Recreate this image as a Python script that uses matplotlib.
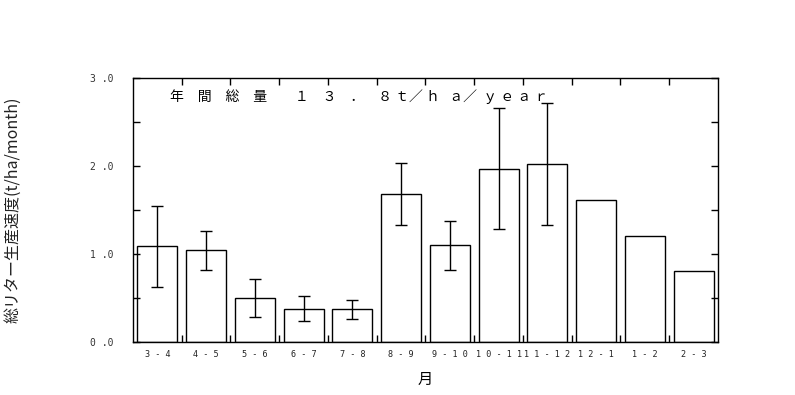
import numpy as np
import matplotlib as mpl
mpl.use('agg')
import matplotlib.pyplot as plt

plt.rcParams['font.family'] = ['Noto Sans CJK JP', 'DejaVu Sans']

months = ["3 - 4", "4 - 5", "5 - 6", "6 - 7", "7 - 8", "8 - 9", "9 - 1 0",
          "1 0 - 1 1", "1 1 - 1 2", "1 2 - 1", "1 - 2", "2 - 3"]
litter = [1.09, 1.04, 0.50, 0.38, 0.37, 1.68, 1.10, 1.97, 2.02, 1.61, 1.20, 0.81]
sd = [0.46, 0.22, 0.22, 0.14, 0.11, 0.35, 0.28, 0.69, 0.69, np.nan, np.nan, np.nan]

yticks = [0.0, 0.5, 1.0, 1.5, 2.0, 2.5, 3.0]
ylabels = ["0 .0", "", "1 .0", "", "2 .0", "", "3 .0"]
title_txt = "年　間　総　量　　１　３　．　８ ｔ／ ｈ   ａ／  ｙ ｅ ａ ｒ"


def plot():
    fig = plt.figure(figsize=(7.95, 3.95), dpi=100)
    ax = fig.add_axes([0.1673, 0.1342, 0.7358, 0.6684])

    x = np.arange(len(litter))
    ax.bar(x, litter, width=0.82, color='white', edgecolor='black', linewidth=1.0)
    ax.errorbar(x, litter, yerr=sd, fmt='none', ecolor='black',
                elinewidth=1.0, capsize=4, capthick=1.0)

    ax.set_xlim(-0.5, len(litter) - 0.5)
    ax.set_ylim(0, 3.0)

    ax.set_yticks(yticks)
    ax.set_yticklabels(ylabels, fontsize=7, color='#333333', family='DejaVu Sans Mono')
    ax.tick_params(axis='y', direction='in', length=5, width=1, right=True, pad=14)

    ax.set_xticks(x)
    ax.set_xticklabels(months, fontsize=6.1, color='#222222', family='DejaVu Sans Mono')
    ax.set_xticks(np.arange(0.5, len(litter) - 1, 1.0), minor=True)
    ax.tick_params(axis='x', which='major', length=0, pad=6)
    ax.tick_params(axis='x', which='minor', direction='in', length=5, width=1, top=True)

    for s in ax.spines.values():
        s.set_linewidth(1.0)

    ax.set_ylabel("総リター生産速度(t/ha/month)", fontsize=11.5, color='#222222')
    ax.yaxis.set_label_coords(-0.19, 0.5)
    ax.set_xlabel("月", fontsize=11, labelpad=8)

    ax.text(0.063, 0.93, title_txt, transform=ax.transAxes, fontsize=10,
            ha='left', va='center')

    fig.savefig('out.png', dpi=100)


plot()
